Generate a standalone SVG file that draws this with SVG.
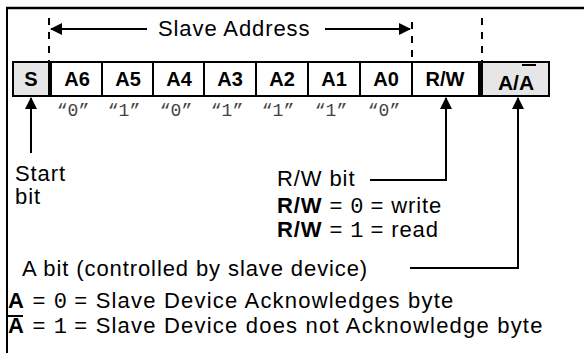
<svg xmlns="http://www.w3.org/2000/svg" width="584" height="353" viewBox="0 0 584 353">
<style>
.t{font-family:"Liberation Sans",Arial,sans-serif;font-size:22px;letter-spacing:0.9px;fill:#000}
.w{letter-spacing:1.2px}
.b{font-family:"Liberation Sans",Arial,sans-serif;font-size:20px;font-weight:bold;fill:#000;text-anchor:middle}
.bb{font-weight:bold}
.m{font-family:"Liberation Mono","DejaVu Sans Mono",monospace;font-size:18px;fill:#444;text-anchor:middle}
.mn{font-family:"Liberation Mono","DejaVu Sans Mono",monospace;font-weight:normal;letter-spacing:0}
.box{fill:#fff;stroke:#000;stroke-width:2}
.gray{fill:#e6e6e6;stroke:#000;stroke-width:2}
.ln{stroke:#000;stroke-width:2;fill:none}
.dash{stroke:#000;stroke-width:2;stroke-dasharray:7 7;fill:none}
</style>
<defs>
<marker id="ah" viewBox="0 0 12 12" refX="11" refY="6" markerWidth="12" markerHeight="12" markerUnits="userSpaceOnUse" orient="auto">
<path d="M0,0 L12,6 L0,12 Z" fill="#000"/>
</marker>
</defs>
<g id="frame">
<line x1="6" y1="8" x2="584" y2="8" stroke="#000" stroke-width="2.5"/>
<line x1="7" y1="7" x2="7" y2="353" stroke="#000" stroke-width="2"/>
</g>
<g id="register">
<rect class="gray" x="13" y="62" width="36" height="34"/>
<rect class="box" x="51" y="62" width="51" height="34"/>
<rect class="box" x="102" y="62" width="51" height="34"/>
<rect class="box" x="153" y="62" width="51" height="34"/>
<rect class="box" x="204" y="62" width="52" height="34"/>
<rect class="box" x="256" y="62" width="52" height="34"/>
<rect class="box" x="308" y="62" width="52" height="34"/>
<rect class="box" x="360" y="62" width="52" height="34"/>
<rect class="box" x="412" y="62" width="67" height="34"/>
<rect class="gray" x="481" y="62" width="68" height="34"/>
<rect x="48" y="61" width="4" height="36" fill="#000"/>
<rect x="478" y="61" width="5" height="36" fill="#000"/>
<text class="b" x="31" y="86">S</text>
<text class="b" x="77" y="86">A6</text>
<text class="b" x="128" y="86">A5</text>
<text class="b" x="179" y="86">A4</text>
<text class="b" x="230" y="86">A3</text>
<text class="b" x="282" y="86">A2</text>
<text class="b" x="334" y="86">A1</text>
<text class="b" x="386" y="86">A0</text>
<text class="b" x="445" y="86">R/W</text>
<text class="b" x="516" y="90" style="font-size:21px">A/A</text>
<line x1="522" y1="65" x2="536" y2="65" stroke="#000" stroke-width="2"/>
</g>
<g id="values">
<text class="m" x="73" y="116">“0”</text>
<text class="m" x="124" y="116">“1”</text>
<text class="m" x="176" y="116">“0”</text>
<text class="m" x="227" y="116">“1”</text>
<text class="m" x="278" y="116">“1”</text>
<text class="m" x="331" y="116">“1”</text>
<text class="m" x="384" y="116">“0”</text>
</g>
<g id="slave-address">
<line class="dash" x1="49" y1="18" x2="49" y2="62"/>
<line class="dash" x1="412" y1="22" x2="412" y2="62"/>
<line class="dash" x1="482" y1="18" x2="482" y2="62"/>
<line class="ln" x1="147" y1="29" x2="51" y2="29" marker-end="url(#ah)"/>
<line class="ln" x1="325" y1="29" x2="410" y2="29" marker-end="url(#ah)"/>
<text class="t" x="158" y="36">Slave Address</text>
</g>
<g id="connectors">
<line class="ln" x1="31" y1="153" x2="31" y2="98" marker-end="url(#ah)"/>
<polyline class="ln" points="370,180 446,180 446,98" marker-end="url(#ah)"/>
<polyline class="ln" points="410,268 518,268 518,98" marker-end="url(#ah)"/>
</g>
<g id="start-label">
<text class="t" x="15" y="181">Start</text>
<text class="t" x="15" y="204">bit</text>
</g>
<g id="rw-label">
<text class="t" x="277" y="186">R/W bit</text>
<text class="t" x="277" y="213"><tspan class="bb">R/W</tspan> = <tspan class="mn">0</tspan> = write</text>
<text class="t" x="277" y="237"><tspan class="bb">R/W</tspan> = <tspan class="mn">1</tspan> = read</text>
</g>
<g id="ack-label">
<text class="t" x="22" y="276">A bit (controlled by slave device)</text>
<text class="t w" x="8" y="308"><tspan class="bb">A</tspan> = <tspan class="mn">0</tspan> = Slave Device Acknowledges byte</text>
<line x1="8" y1="316" x2="23" y2="316" stroke="#000" stroke-width="2"/>
<text class="t w" x="8" y="333"><tspan class="bb">A</tspan> = <tspan class="mn">1</tspan> = Slave Device does not Acknowledge byte</text>
</g>
</svg>
